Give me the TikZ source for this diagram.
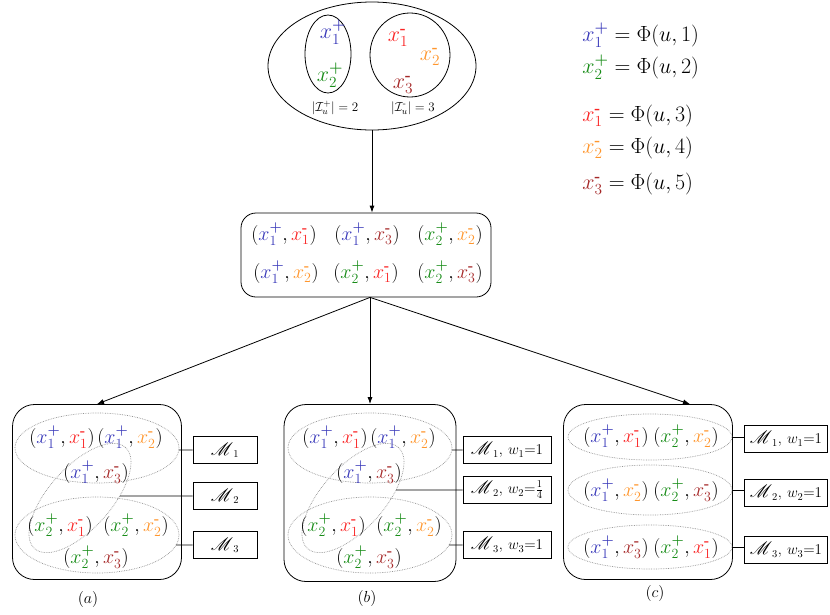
\RequirePackage{fix-cm}
\documentclass[tikz,border=0pt]{standalone}
\usepackage{amsmath}
\usepackage{amssymb}
\usepackage{mathrsfs}
\usetikzlibrary{shapes.geometric,arrows.meta,intersections}
\definecolor{cb}{RGB}{58,58,186}
\definecolor{cg}{RGB}{24,140,24}
\definecolor{cr}{RGB}{250,36,36}
\definecolor{co}{RGB}{255,150,45}
\definecolor{cd}{RGB}{165,40,40}
\newcommand{\mysupp}{^{\boldsymbol{+}}}
\newcommand{\mysupm}{^{\textbf{-}}}
\newcommand{\xpa}{\textcolor{cb}{x_1\mysupp}}
\newcommand{\xpb}{\textcolor{cg}{x_2\mysupp}}
\newcommand{\xma}{\textcolor{cr}{x_1\mysupm}}
\newcommand{\xmb}{\textcolor{co}{x_2\mysupm}}
\newcommand{\xmc}{\textcolor{cd}{x_3\mysupm}}
\newcommand{\bigM}{\scalebox{1.25}{$\mathscr{M}$}}
\newcommand{\Mw}[2]{$\bigM_{#1},\, w_{#1}{=}#2$}
\tikzset{
  pair/.style={inner sep=0pt, font=\fontsize{20}{23}\selectfont},
  bigx/.style={inner sep=0pt, font=\fontsize{22}{26}\selectfont},
  leg/.style={inner sep=0pt, anchor=west, font=\fontsize{22}{26}\selectfont},
  small/.style={inner sep=0pt, font=\fontsize{13}{15}\selectfont},
  panelcap/.style={inner sep=0pt, font=\fontsize{16}{19}\selectfont},
  ell/.style={ellipse, draw, inner sep=0pt},
  grp/.style={draw, rounded corners=22pt, inner sep=0pt},
  dotell/.style={ellipse, draw=gray!85, densely dotted, line width=0.7pt, inner sep=0pt},
  mbox/.style={draw, minimum height=27, inner sep=0pt, font=\fontsize{15}{18}\selectfont},
  arr/.style={-{Latex[length=7pt,width=5pt]}},
}
\begin{document}
\begin{tikzpicture}[x=1pt,y=-1pt,line width=0.8pt]
\useasboundingbox (0,0) rectangle (830,614);

% ---------- top set ----------
\node[ell, minimum width=208, minimum height=128] (top) at (372,66) {};
\node[ell, minimum width=46, minimum height=78] (setp) at (328,54) {};
\node[ell, minimum width=80, minimum height=84] (setm) at (410,55) {};
\node[bigx] (t1) at (333,32) {$\xpa$};
\node[bigx] (t2) at (330,75) {$\xpb$};
\node[bigx] (t3) at (398,38) {$\xma$};
\node[bigx] (t4) at (430,57) {$\xmb$};
\node[bigx] (t5) at (403,85) {$\xmc$};
\node[small] (lp) at (335,108) {$|\mathcal{I}_u^{+}| = 2$};
\node[small] (lm) at (413,108) {$|\mathcal{I}_u^{\text{-}}| = 3$};

% ---------- legend ----------
\node[leg] (g1) at (582,35) {$\xpa = \Phi(u,1)$};
\node[leg] (g2) at (582,67) {$\xpb = \Phi(u,2)$};
\node[leg] (g3) at (582,116) {$\xma = \Phi(u,3)$};
\node[leg] (g4) at (582,148) {$\xmb = \Phi(u,4)$};
\node[leg] (g5) at (582,184) {$\xmc = \Phi(u,5)$};

% ---------- middle box ----------
\node[grp, rounded corners=15pt, minimum width=250, minimum height=84] (mid) at (366,255) {};
\node[pair] (m1) at (284,234) {$(\xpa,\xma)$};
\node[pair] (m2) at (367,234) {$(\xpa,\xmc)$};
\node[pair] (m3) at (450,234) {$(\xpb,\xmb)$};
\node[pair] (m4) at (286,272) {$(\xpa,\xmb)$};
\node[pair] (m5) at (366,272) {$(\xpb,\xma)$};
\node[pair] (m6) at (450,272) {$(\xpb,\xmc)$};
\coordinate (fork) at ([xshift=4pt]mid.south);

\draw[arr] (top.south) -- (top.south |- mid.north);

% ---------- panel (a) ----------
\node[grp, minimum width=169, minimum height=175] (abox) at (97,492) {};
\node[dotell, minimum width=164, minimum height=70, name path=aE1] (aE1) at (97,448) {};
\node[dotell, minimum width=164, minimum height=76, name path=aE3] (aE3) at (97,535) {};
\node[dotell, minimum width=136, minimum height=62, rotate=48, name path=aE2] (aE2) at (80,498) {};
\node[pair] (ap1) at (62,437) {$(\xpa,\xma)$};
\node[pair] (ap2) at (130,437) {$(\xpa,\xmb)$};
\node[pair] (ap3) at (96,472) {$(\xpa,\xmc)$};
\node[pair] (ap4) at (60,525) {$(\xpb,\xma)$};
\node[pair] (ap5) at (136,525) {$(\xpb,\xmb)$};
\node[pair] (ap6) at (96,557) {$(\xpb,\xmc)$};
\node[mbox, minimum width=64] (aM1) at (225,450) {$\bigM_1$};
\node[mbox, minimum width=64] (aM2) at (225,496) {$\bigM_2$};
\node[mbox, minimum width=64] (aM3) at (225,545) {$\bigM_3$};
\node[panelcap] (alab) at (88,599) {$(a)$};
\path[name path=aL1] (aM1.west) -- ++(-110,0);
\path[name path=aL2] (aM2.west) -- ++(-110,0);
\path[name path=aL3] (aM3.west) -- ++(-110,0);
\draw[name intersections={of=aE1 and aL1, sort by=aL1}] (aM1.west) -- (intersection-1);
\draw[name intersections={of=aE2 and aL2, sort by=aL2}] (aM2.west) -- (intersection-1);
\draw[name intersections={of=aE3 and aL3, sort by=aL3}] (aM3.west) -- (intersection-1);

% ---------- panel (b) ----------
\node[grp, minimum width=172, minimum height=177] (bbox) at (370,493) {};
\node[dotell, minimum width=164, minimum height=70, name path=bE1] (bE1) at (370,448) {};
\node[dotell, minimum width=164, minimum height=76, name path=bE3] (bE3) at (370,535) {};
\node[dotell, minimum width=136, minimum height=62, rotate=48, name path=bE2] (bE2) at (353,498) {};
\node[pair] (bp1) at (335,437) {$(\xpa,\xma)$};
\node[pair] (bp2) at (403,437) {$(\xpa,\xmb)$};
\node[pair] (bp3) at (369,472) {$(\xpa,\xmc)$};
\node[pair] (bp4) at (333,525) {$(\xpb,\xma)$};
\node[pair] (bp5) at (409,525) {$(\xpb,\xmb)$};
\node[pair] (bp6) at (369,557) {$(\xpb,\xmc)$};
\node[mbox, minimum width=88] (bM1) at (507,450) {\Mw{1}{1}};
\node[mbox, minimum width=88] (bM2) at (507,490) {\Mw{2}{\tfrac{1}{4}}};
\node[mbox, minimum width=88] (bM3) at (507,545) {\Mw{3}{1}};
\node[panelcap] (blab) at (367,598) {$(b)$};
\path[name path=bL1] (bM1.west) -- ++(-110,0);
\path[name path=bL2] (bM2.west) -- ++(-110,0);
\path[name path=bL3] (bM3.west) -- ++(-110,0);
\draw[name intersections={of=bE1 and bL1, sort by=bL1}] (bM1.west) -- (intersection-1);
\draw[name intersections={of=bE2 and bL2, sort by=bL2}] (bM2.west) -- (intersection-1);
\draw[name intersections={of=bE3 and bL3, sort by=bL3}] (bM3.west) -- (intersection-1);

% ---------- panel (c) ----------
\node[grp, minimum width=169, minimum height=175] (cbox) at (648,492) {};
\node[dotell, minimum width=164, minimum height=46] (cE1) at (650,437) {};
\node[dotell, minimum width=164, minimum height=50] (cE2) at (650,490) {};
\node[dotell, minimum width=164, minimum height=44] (cE3) at (650,547) {};
\node[pair] (cp1) at (616,436) {$(\xpa,\xma)$};
\node[pair] (cp2) at (686,436) {$(\xpb,\xmb)$};
\node[pair] (cp3) at (616,490) {$(\xpa,\xmb)$};
\node[pair] (cp4) at (686,490) {$(\xpb,\xmc)$};
\node[pair] (cp5) at (616,547) {$(\xpa,\xmc)$};
\node[pair] (cp6) at (686,547) {$(\xpb,\xma)$};
\node[mbox, minimum width=83] (cM1) at (786,439) {\Mw{1}{1}};
\node[mbox, minimum width=83] (cM2) at (786,493) {\Mw{2}{1}};
\node[mbox, minimum width=83] (cM3) at (786,550) {\Mw{3}{1}};
\node[panelcap] (clab) at (655,593) {$(c)$};
\draw (cE1.east) -- (cE1.east -| cM1.west);
\draw (cE2.east) -- (cE2.east -| cM2.west);
\draw (cE3.east) -- (cE3.east -| cM3.west);

% ---------- arrows to panels ----------
\draw[arr] (fork) -- (abox.north);
\draw[arr] (fork) -- (bbox.north);
\draw[arr] (fork) -- ([xshift=42pt]cbox.north);
\end{tikzpicture}
\end{document}
